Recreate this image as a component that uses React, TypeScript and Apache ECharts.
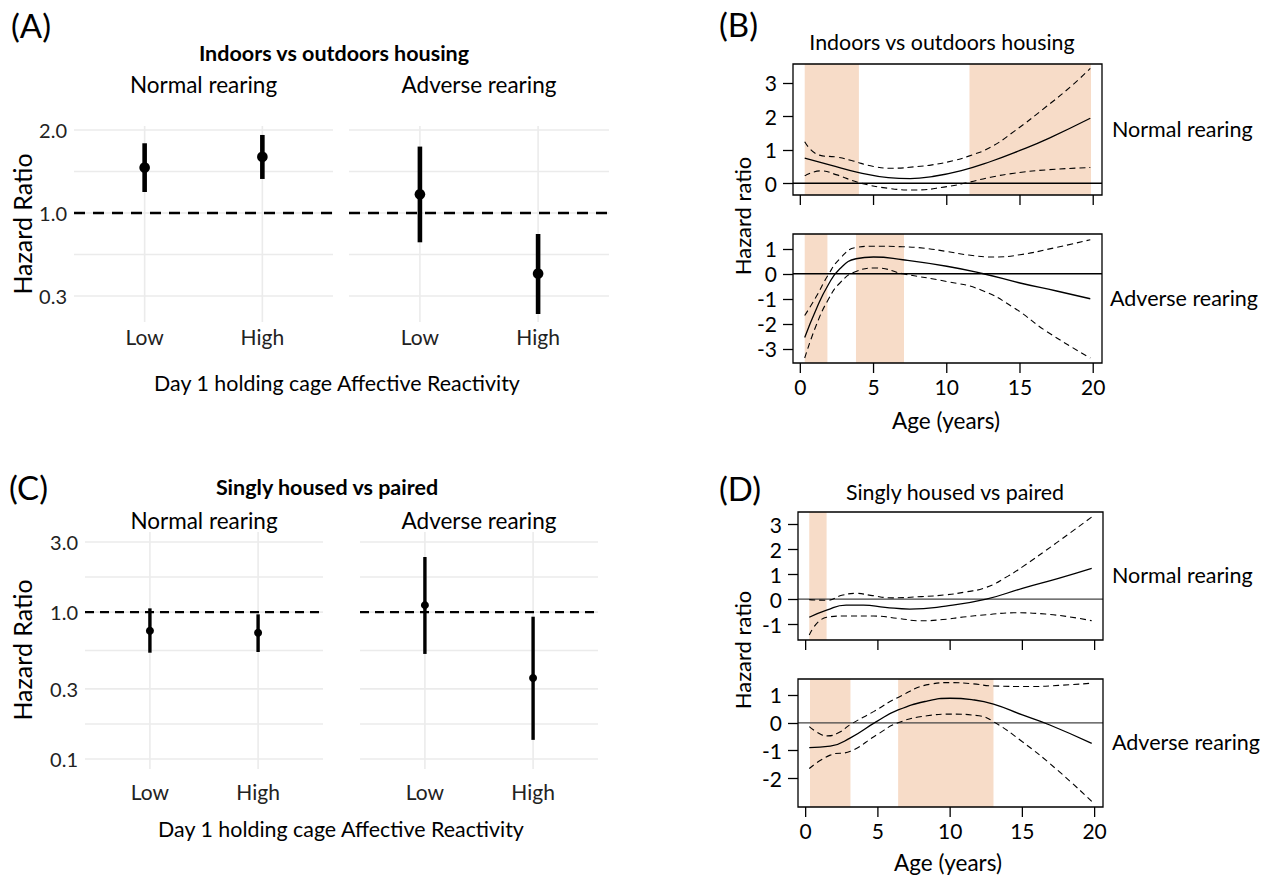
import React, { useEffect, useRef } from "react";
import * as echarts from "echarts";

const FONT = "Lato, 'Noto Sans', sans-serif";

// ---------- Panel A / C : forest-style facets ----------
const reactivityCats = ["Low", "High"];

// Panel A (axis in display units: 0 -> "0.3", 1 -> "1.0", 2 -> "2.0")
const aTickPos = [0, 1, 2];
const aTickLabels = ["0.3", "1.0", "2.0"];
const aGridPos = [0, 0.5, 1, 1.5, 2];
const aRefPos = 1;
const aNormalEst = [1.546, 1.675];
const aNormalLo = [1.253, 1.41];
const aNormalHi = [1.84, 1.94];
const aAdverseEst = [1.225, 0.269];
const aAdverseLo = [0.647, -0.217];
const aAdverseHi = [1.8, 0.747];

// Panel C (hazard ratios on a log10 scale)
const cTickHR = [0.1, 0.3, 1, 3];
const cTickLabels = ["0.1", "0.3", "1.0", "3.0"];
const cRefHR = 1;
const cNormalEst = [0.746, 0.723];
const cNormalLo = [0.529, 0.535];
const cNormalHi = [1.06, 0.965];
const cAdverseEst = [1.115, 0.356];
const cAdverseLo = [0.519, 0.135];
const cAdverseHi = [2.37, 0.93];

// ---------- Panel B / D : smooth curves over age ----------
const ageTicks = [0, 5, 10, 15, 20];

const bNormalFit = [[0.3, 0.75], [2, 0.55], [4, 0.32], [6, 0.17], [7.5, 0.14], [9, 0.2], [11, 0.38], [13, 0.65], [15, 0.98], [17, 1.35], [19.8, 1.94]];
const bNormalUpper = [[0.3, 1.24], [1.3, 0.84], [2.5, 0.78], [3.5, 0.68], [5, 0.5], [6.3, 0.45], [8, 0.5], [9, 0.55], [10.5, 0.68], [11.5, 0.81], [13, 1.08], [14.6, 1.55], [16.8, 2.29], [18.5, 2.9], [19.8, 3.43]];
const bNormalLower = [[0.3, 0.22], [1.4, 0.37], [2.5, 0.25], [4, 0.02], [6, -0.15], [7.8, -0.2], [10, -0.1], [11.5, 0.03], [13, 0.18], [14.6, 0.3], [16.8, 0.4], [19.8, 0.47]];
const bNormalShade = [[0.3, 4.0], [11.55, 19.85]];
const bNormalTicks = [0, 1, 2, 3];

const bAdverseFit = [[0.3, -2.55], [1.1, -1.4], [1.9, -0.45], [2.7, 0.2], [3.8, 0.6], [5, 0.67], [7, 0.56], [10, 0.3], [12.5, 0.0], [15, -0.37], [17.5, -0.69], [19.8, -1.0]];
const bAdverseUpper = [[0.3, -1.67], [1.1, -0.9], [1.9, -0.05], [2.7, 0.6], [3.8, 1.05], [5, 1.1], [7, 1.08], [8.5, 1.02], [10, 0.89], [11.5, 0.75], [13.2, 0.67], [15, 0.76], [17.3, 1.03], [19.8, 1.36]];
const bAdverseLower = [[0.3, -3.37], [1.1, -2.04], [1.9, -1.04], [2.7, -0.37], [3.8, 0.09], [5.2, 0.23], [7, 0.0], [10, -0.31], [12.3, -0.64], [14.6, -1.37], [16.8, -2.3], [19.8, -3.37]];
const bAdverseShade = [[0.3, 1.85], [3.8, 7.08]];
const bAdverseTicks = [-3, -2, -1, 0, 1];

const dNormalFit = [[0.25, -0.73], [1.45, -0.44], [2.8, -0.24], [4, -0.24], [5.5, -0.33], [7.2, -0.4], [9.7, -0.28], [12.5, 0.0], [15, 0.43], [17.5, 0.83], [19.8, 1.23]];
const dNormalUpper = [[0.25, -0.02], [1.45, -0.05], [2.5, 0.15], [3.5, 0.23], [4.5, 0.15], [6, 0.05], [8, 0.1], [9.7, 0.17], [11, 0.28], [12.5, 0.47], [14, 0.92], [15, 1.29], [17.3, 2.23], [19.8, 3.29]];
const dNormalLower = [[0.25, -1.44], [1.45, -0.73], [2.8, -0.68], [4.7, -0.68], [6.5, -0.78], [7.9, -0.87], [9.5, -0.82], [10.9, -0.72], [12.5, -0.63], [14.4, -0.55], [16.6, -0.6], [19.8, -0.87]];
const dNormalShade = [[0.25, 1.45]];
const dNormalTicks = [-1, 0, 1, 2, 3];

const dAdverseFit = [[0.25, -0.89], [1.7, -0.84], [3.1, -0.54], [4.9, 0.04], [6.4, 0.46], [8.4, 0.78], [10, 0.88], [11.5, 0.83], [13, 0.67], [15, 0.28], [16.9, -0.08], [19.8, -0.74]];
const dAdverseUpper = [[0.25, -0.14], [1.0, -0.4], [1.5, -0.47], [2.3, -0.35], [3.1, -0.06], [4.7, 0.4], [6.4, 0.91], [8.6, 1.38], [10, 1.44], [11.5, 1.4], [13, 1.32], [15.5, 1.3], [17.5, 1.34], [19.8, 1.42]];
const dAdverseLower = [[0.25, -1.64], [1.7, -1.16], [3.1, -1.02], [4.9, -0.44], [6.4, 0.0], [8.4, 0.25], [10, 0.31], [12, 0.25], [13, 0.04], [15, -0.68], [17.3, -1.64], [19.8, -2.82]];
const dAdverseShade = [[0.3, 3.1], [6.4, 13.0]];
const dAdverseTicks = [-2, -1, 0, 1];

const SHADE = "#f7dcc8";
const GRIDLINE = "#ebebeb";
const TICK_LEN = 10;

function hLines(gi: number, values: number[], style: any, z: number) {
  return {
    type: "custom", xAxisIndex: gi, yAxisIndex: gi, z, silent: true,
    data: values.map((v) => [1.5, v]),
    encode: { x: 0, y: 1 },
    renderItem: (params: any, api: any) => {
      const cs = params.coordSys;
      const y = api.coord([api.value(0), api.value(1)])[1];
      return { type: "line", shape: { x1: cs.x, y1: y, x2: cs.x + cs.width, y2: y }, style };
    },
  };
}

function vLines(gi: number, values: number[], style: any, z: number) {
  return {
    type: "custom", xAxisIndex: gi, yAxisIndex: gi, z, silent: true,
    data: values.map((v) => [v, 0]),
    encode: { x: 0, y: 1 },
    renderItem: (params: any, api: any) => {
      const cs = params.coordSys;
      const x = api.coord([api.value(0), api.value(1)])[0];
      return { type: "line", shape: { x1: x, y1: cs.y, x2: x, y2: cs.y + cs.height }, style };
    },
  };
}

// Curve panels: the grid reaches TICK_LEN px below the plot box; the box bottom is the
// data value `boxMin`, so box, shading and tick marks are all placed through the y scale.
function boxSeries(gi: number, boxMin: number) {
  return {
    type: "custom", xAxisIndex: gi, yAxisIndex: gi, z: 10, silent: true,
    data: [[10, boxMin]],
    encode: { x: 0, y: 1 },
    renderItem: (params: any, api: any) => {
      const cs = params.coordSys;
      const yb = api.coord([api.value(0), api.value(1)])[1];
      return { type: "rect", shape: { x: cs.x, y: cs.y, width: cs.width, height: yb - cs.y }, style: { fill: "none", stroke: "#000", lineWidth: 1.3 } };
    },
  };
}

function xTickSeries(gi: number, values: number[], boxMin: number) {
  return {
    type: "custom", xAxisIndex: gi, yAxisIndex: gi, z: 10, silent: true,
    data: values.map((v) => [v, boxMin]),
    encode: { x: 0, y: 1 },
    renderItem: (params: any, api: any) => {
      const cs = params.coordSys;
      const p = api.coord([api.value(0), api.value(1)]);
      return { type: "line", shape: { x1: p[0], y1: p[1], x2: p[0], y2: cs.y + cs.height }, style: { stroke: "#000", lineWidth: 1.3 } };
    },
  };
}

function shadeSeries(gi: number, ranges: number[][], boxMin: number) {
  return {
    type: "custom", xAxisIndex: gi, yAxisIndex: gi, z: 1, silent: true,
    data: ranges.map((r) => [r[0], r[1], boxMin]),
    encode: { x: [0, 1], y: 2 },
    renderItem: (params: any, api: any) => {
      const cs = params.coordSys;
      const p0 = api.coord([api.value(0), api.value(2)]);
      const x1 = api.coord([api.value(1), api.value(2)])[0];
      return { type: "rect", shape: { x: p0[0], y: cs.y, width: x1 - p0[0], height: p0[1] - cs.y }, style: { fill: SHADE } };
    },
  };
}

function errorBars(gi: number, est: number[], lo: number[], hi: number[], lw: number, r: number) {
  return {
    type: "custom", xAxisIndex: gi, yAxisIndex: gi, z: 6, silent: true,
    data: est.map((e, i) => [i + 1, e, lo[i], hi[i]]),
    encode: { x: 0, y: [1, 2, 3] },
    renderItem: (params: any, api: any) => {
      const x = api.value(0);
      const pE = api.coord([x, api.value(1)]);
      const pL = api.coord([x, api.value(2)]);
      const pH = api.coord([x, api.value(3)]);
      return {
        type: "group",
        children: [
          { type: "line", shape: { x1: pL[0], y1: pL[1], x2: pH[0], y2: pH[1] }, style: { stroke: "#000", lineWidth: lw } },
          { type: "circle", shape: { cx: pE[0], cy: pE[1], r }, style: { fill: "#000" } },
        ],
      };
    },
  };
}

function curve(gi: number, data: number[][], dashed: boolean) {
  return {
    type: "line", xAxisIndex: gi, yAxisIndex: gi, z: 5, silent: true,
    data, showSymbol: false, symbol: "none", smooth: 0.5,
    lineStyle: { color: "#000", width: dashed ? 1.1 : 1.3, type: dashed ? [6, 4] : "solid" },
  };
}

const text = (t: string, x: number, y: number, size: number, opts: any = {}) => ({
  type: "text", x, y, rotation: opts.rotation || 0, silent: true,
  style: {
    text: t, fill: opts.color || "#000", fontSize: size, fontFamily: FONT,
    fontWeight: opts.bold ? "bold" : "normal", align: opts.align || "center", verticalAlign: "middle",
  },
});

export default function App() {
  const ref = useRef<HTMLDivElement>(null);
  useEffect(() => {
    const chart = echarts.init(ref.current!, null, { renderer: "svg" });
    const log = (v: number) => Math.log10(v);

    // box geometry of the four curve panels (box height in px, y range of the box)
    const curveBoxes = [
      { left: 793, top: 64, width: 309, height: 131, xmin: -0.5, xmax: 20.6, ymin: -0.35, ymax: 3.56, ticks: bNormalTicks, labels: false },
      { left: 793, top: 234, width: 309, height: 129, xmin: -0.5, xmax: 20.6, ymin: -3.57, ymax: 1.59, ticks: bAdverseTicks, labels: true },
      { left: 798, top: 512, width: 305, height: 128, xmin: -0.53, xmax: 20.58, ymin: -1.64, ymax: 3.49, ticks: dNormalTicks, labels: false },
      { left: 798, top: 679, width: 305, height: 128, xmin: -0.53, xmax: 20.58, ymin: -3.02, ymax: 1.57, ticks: dAdverseTicks, labels: true },
    ].map((b) => ({ ...b, extMin: b.ymin - (TICK_LEN * (b.ymax - b.ymin)) / b.height }));

    const grids: any[] = [
      { left: 74, top: 126, width: 259, height: 196 },
      { left: 349, top: 126, width: 260, height: 196 },
      { left: 85, top: 532, width: 238, height: 237 },
      { left: 360, top: 532, width: 238, height: 237 },
      ...curveBoxes.map((b) => ({ left: b.left, top: b.top, width: b.width, height: b.height + TICK_LEN })),
    ];

    const catX = (gi: number, margin: number) => ({
      gridIndex: gi, type: "value", min: 0.4, max: 2.6,
      axisLine: { show: false, onZero: false }, axisTick: { show: false }, splitLine: { show: false },
      axisLabel: {
        customValues: [1, 2], formatter: (v: number) => reactivityCats[Math.round(v) - 1],
        fontSize: 21, fontFamily: FONT, color: "#222", margin,
      },
    });
    const ageX = (gi: number, min: number, max: number, labels: boolean) => ({
      gridIndex: gi, type: "value", min, max,
      axisLine: { show: false, onZero: false }, splitLine: { show: false }, axisTick: { show: false },
      axisLabel: { show: labels, customValues: ageTicks, fontSize: 21, fontFamily: FONT, color: "#000", margin: 3 },
    });
    const hrY = (gi: number, min: number, max: number, ticks: number[]) => ({
      gridIndex: gi, type: "value", min, max,
      axisLine: { show: false, onZero: false }, splitLine: { show: false },
      axisTick: { show: true, customValues: ticks, length: 10, lineStyle: { color: "#000", width: 1.3 } },
      axisLabel: { customValues: ticks, fontSize: 21, fontFamily: FONT, color: "#000", margin: 16, formatter: (v: number) => String(Math.round(v)) },
    });

    const xAxis = [
      catX(0, 4), catX(1, 4), catX(2, 12), catX(3, 12),
      ...curveBoxes.map((b, i) => ageX(4 + i, b.xmin, b.xmax, b.labels)),
    ];
    const aY = (gi: number, show: boolean) => ({
      gridIndex: gi, type: "value", min: -0.313, max: 2.048,
      axisLine: { show: false, onZero: false }, axisTick: { show: false }, splitLine: { show: false },
      axisLabel: {
        show, customValues: aTickPos, formatter: (v: number) => aTickLabels[aTickPos.indexOf(Math.round(v))],
        fontSize: 20, fontFamily: FONT, color: "#222", margin: 7,
      },
    });
    const cTickLog = cTickHR.map(log);
    const cY = (gi: number, show: boolean) => ({
      gridIndex: gi, type: "value", min: -1.068, max: 0.545,
      axisLine: { show: false, onZero: false }, axisTick: { show: false }, splitLine: { show: false },
      axisLabel: {
        show, customValues: cTickLog,
        formatter: (v: number) => {
          let best = 0;
          cTickLog.forEach((t, i) => { if (Math.abs(t - v) < Math.abs(cTickLog[best] - v)) best = i; });
          return cTickLabels[best];
        },
        fontSize: 20, fontFamily: FONT, color: "#222", margin: 7,
      },
    });
    const yAxis = [
      aY(0, true), aY(1, false), cY(2, true), cY(3, false),
      ...curveBoxes.map((b, i) => hrY(4 + i, b.extMin, b.ymax, b.ticks)),
    ];

    const gridStyle = { stroke: GRIDLINE, lineWidth: 1.6 };
    const cGrid: number[] = [];
    cTickLog.forEach((t, i) => {
      cGrid.push(t);
      if (i < cTickLog.length - 1) cGrid.push((t + cTickLog[i + 1]) / 2);
    });

    const series: any[] = [];
    // Panel A
    [0, 1].forEach((gi) => {
      series.push(hLines(gi, aGridPos, gridStyle, 1));
      series.push(vLines(gi, [1, 2], gridStyle, 1));
      series.push(hLines(gi, [aRefPos], { stroke: "#000", lineWidth: 2.6, lineDash: [11, 8] }, 3));
    });
    series.push(errorBars(0, aNormalEst, aNormalLo, aNormalHi, 4.6, 5.3));
    series.push(errorBars(1, aAdverseEst, aAdverseLo, aAdverseHi, 4.6, 5.3));
    // Panel C
    [2, 3].forEach((gi) => {
      series.push(hLines(gi, cGrid, gridStyle, 1));
      series.push(vLines(gi, [1, 2], gridStyle, 1));
      series.push(hLines(gi, [log(cRefHR)], { stroke: "#000", lineWidth: 2.2, lineDash: [9, 6] }, 3));
    });
    series.push(errorBars(2, cNormalEst.map(log), cNormalLo.map(log), cNormalHi.map(log), 3.4, 4));
    series.push(errorBars(3, cAdverseEst.map(log), cAdverseLo.map(log), cAdverseHi.map(log), 3.4, 4));
    // Panels B / D
    const curvesPanels = [
      { fit: bNormalFit, up: bNormalUpper, lo: bNormalLower, shade: bNormalShade, zero: "#000" },
      { fit: bAdverseFit, up: bAdverseUpper, lo: bAdverseLower, shade: bAdverseShade, zero: "#000" },
      { fit: dNormalFit, up: dNormalUpper, lo: dNormalLower, shade: dNormalShade, zero: "#444" },
      { fit: dAdverseFit, up: dAdverseUpper, lo: dAdverseLower, shade: dAdverseShade, zero: "#444" },
    ];
    curvesPanels.forEach((p, i) => {
      const gi = 4 + i;
      const boxMin = curveBoxes[i].ymin;
      series.push(shadeSeries(gi, p.shade, boxMin));
      series.push(hLines(gi, [0], { stroke: p.zero, lineWidth: 1.3 }, 3));
      series.push(curve(gi, p.fit, false));
      series.push(curve(gi, p.up, true));
      series.push(curve(gi, p.lo, true));
      series.push(boxSeries(gi, boxMin));
      series.push(xTickSeries(gi, ageTicks, boxMin));
    });

    const graphic = [
      text("(A)", 11, 25, 33, { align: "left" }),
      text("Indoors vs outdoors housing", 334, 53, 21.5, { bold: true }),
      text("Normal rearing", 203.5, 84, 22.5),
      text("Adverse rearing", 479, 84, 22.5),
      text("Hazard Ratio", 22, 224, 25, { rotation: Math.PI / 2 }),
      text("Day 1 holding cage Affective Reactivity", 337, 383, 21.4),

      text("(C)", 9, 487, 33, { align: "left" }),
      text("Singly housed vs paired", 327, 487, 21.5, { bold: true }),
      text("Normal rearing", 204, 520, 22.5),
      text("Adverse rearing", 479, 520, 22.5),
      text("Hazard Ratio", 22, 650, 25, { rotation: Math.PI / 2 }),
      text("Day 1 holding cage Affective Reactivity", 341, 829, 21.4),

      text("(B)", 719, 24, 33, { align: "left" }),
      text("Indoors vs outdoors housing", 942, 42, 21.4),
      text("Normal rearing", 1112, 129, 21.5, { align: "left" }),
      text("Adverse rearing", 1110, 298, 21.5, { align: "left" }),
      text("Hazard ratio", 742, 216, 22, { rotation: Math.PI / 2 }),
      text("Age (years)", 946, 420, 22.5),

      text("(D)", 719, 488, 33, { align: "left" }),
      text("Singly housed vs paired", 955, 492, 21.4),
      text("Normal rearing", 1112, 575, 21.5, { align: "left" }),
      text("Adverse rearing", 1112, 742, 21.5, { align: "left" }),
      text("Hazard ratio", 742, 650, 22, { rotation: Math.PI / 2 }),
      text("Age (years)", 948, 862, 22.5),
    ];

    chart.setOption({
      animation: false,
      backgroundColor: "#fff",
      textStyle: { fontFamily: FONT },
      grid: grids,
      xAxis,
      yAxis,
      series,
      graphic,
    });
    return () => chart.dispose();
  }, []);
  return <div ref={ref} style={{ position: "absolute", left: 0, top: 0, width: 1270, height: 876 }} />;
}
